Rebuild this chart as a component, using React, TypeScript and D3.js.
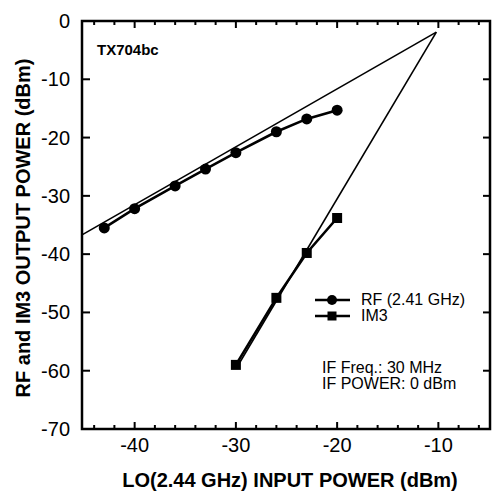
import React from "react";
import * as d3 from "d3";

const rfX = [-43, -40, -36, -33, -30, -26, -23, -20];
const rfY = [-35.5, -32.2, -28.3, -25.4, -22.6, -19.0, -16.8, -15.3];
const im3X = [-30, -26, -23, -20];
const im3Y = [-59.0, -47.5, -39.8, -33.8];
const rfFitX = [-45.2, -10.2];
const rfFitY = [-36.7, -1.9];
const im3FitX = [-10.2, -29.9];
const im3FitY = [-1.9, -59.4];
const xTicks = [-40, -30, -20, -10];
const xMinor = [-44, -42, -38, -36, -34, -32, -28, -26, -24, -22, -18, -16, -14, -12, -8, -6];
const yTicks = [0, -10, -20, -30, -40, -50, -60, -70];

const W = 495, H = 494;
const L = 82, R = 490, T = 21, B = 429;
const font = "'Liberation Sans', Arial, sans-serif";

export default function App() {
  const x = d3.scaleLinear().domain([-45.2, -4.9]).range([L, R]);
  const y = d3.scaleLinear().domain([-70, 0]).range([B, T]);
  const line = d3.line<[number, number]>().x(d => x(d[0])).y(d => y(d[1]));
  const rf = rfX.map((v, i) => [v, rfY[i]] as [number, number]);
  const im3 = im3X.map((v, i) => [v, im3Y[i]] as [number, number]);
  const rfFit = rfFitX.map((v, i) => [v, rfFitY[i]] as [number, number]);
  const im3Fit = im3FitX.map((v, i) => [v, im3FitY[i]] as [number, number]);
  const sq = 10;
  return (
    <svg width={W} height={H} style={{ position: "absolute", left: 0, top: 0, background: "#fff" }} fontFamily={font}>
      <rect x={0} y={0} width={W} height={H} fill="#fff" />
      {/* frame */}
      <rect x={L} y={T} width={R - L} height={B - T} fill="none" stroke="#000" strokeWidth={2.5} />
      {/* x ticks */}
      {xTicks.map(t => (
        <g key={"xt" + t}>
          <line x1={x(t)} x2={x(t)} y1={B} y2={B - 7} stroke="#000" strokeWidth={2} />
          <line x1={x(t)} x2={x(t)} y1={T} y2={T + 7} stroke="#000" strokeWidth={2} />
          <text x={x(t)} y={452} textAnchor="middle" fontSize={20}>{t}</text>
        </g>
      ))}
      {xMinor.map(t => (
        <g key={"xm" + t}>
          <line x1={x(t)} x2={x(t)} y1={B} y2={B - 4} stroke="#000" strokeWidth={2} />
          <line x1={x(t)} x2={x(t)} y1={T} y2={T + 4} stroke="#000" strokeWidth={2} />
        </g>
      ))}
      {yTicks.map(t => (
        <g key={"yt" + t}>
          <line x1={L} x2={L + 8} y1={y(t)} y2={y(t)} stroke="#000" strokeWidth={2} />
          <line x1={R} x2={R - 7} y1={y(t)} y2={y(t)} stroke="#000" strokeWidth={2} />
          <text x={70} y={y(t) + 7} textAnchor="end" fontSize={20}>{t}</text>
        </g>
      ))}
      {/* extrapolation lines */}
      <path d={line(rfFit) || ""} fill="none" stroke="#000" strokeWidth={1.6} />
      <path d={line(im3Fit) || ""} fill="none" stroke="#000" strokeWidth={1.6} />
      {/* data */}
      <path d={line(rf) || ""} fill="none" stroke="#000" strokeWidth={2.6} />
      {rf.map((d, i) => <circle key={"rf" + i} cx={x(d[0])} cy={y(d[1])} r={5.5} fill="#000" />)}
      <path d={line(im3) || ""} fill="none" stroke="#000" strokeWidth={2.6} />
      {im3.map((d, i) => <rect key={"im" + i} x={x(d[0]) - sq / 2} y={y(d[1]) - sq / 2} width={sq} height={sq} fill="#000" />)}
      {/* legend */}
      <line x1={315} x2={350} y1={300} y2={300} stroke="#000" strokeWidth={2.6} />
      <circle cx={332} cy={300} r={5} fill="#000" />
      <text x={361} y={305} fontSize={16}>RF (2.41 GHz)</text>
      <line x1={315} x2={350} y1={316} y2={316} stroke="#000" strokeWidth={2.6} />
      <rect x={332 - 4.5} y={316 - 4.5} width={9} height={9} fill="#000" />
      <text x={361} y={321} fontSize={16}>IM3</text>
      <text x={322} y={373} fontSize={16}>IF Freq.: 30 MHz</text>
      <text x={322} y={389} fontSize={16}>IF POWER: 0 dBm</text>
      <text x={97} y={55} fontSize={15} fontWeight="bold">TX704bc</text>
      {/* axis titles */}
      <text x={290} y={487} textAnchor="middle" fontSize={20} fontWeight="bold">LO(2.44 GHz) INPUT POWER (dBm)</text>
      <text transform={`translate(30,228) rotate(-90)`} textAnchor="middle" fontSize={20} fontWeight="bold">RF and IM3 OUTPUT POWER (dBm)</text>
    </svg>
  );
}
